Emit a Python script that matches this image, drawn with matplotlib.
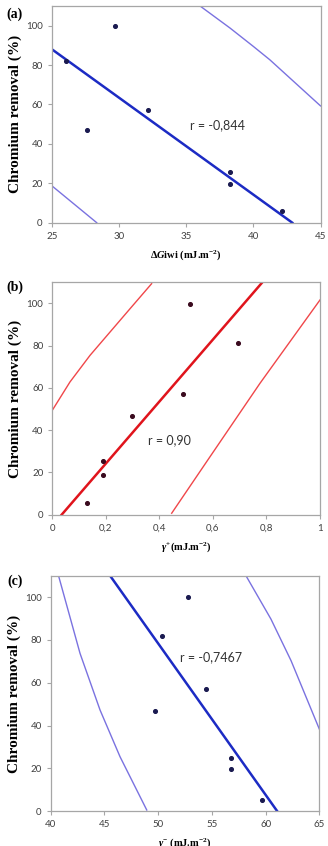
import numpy as np
import matplotlib.pyplot as plt

plt.rcParams['mathtext.fontset'] = 'custom'
plt.rcParams['mathtext.rm'] = 'Liberation Serif:bold'
plt.rcParams['mathtext.it'] = 'Liberation Serif:italic:bold'

# datos
# (a) dGiwi
xa = [26.05, 27.65, 29.7, 32.15, 38.25, 38.25, 42.1]
ya = [82.2, 47.1, 100.0, 57.3, 25.8, 19.7, 6.1]
fit_a_x = [25.0, 42.9]
fit_a_y = [88.1, 0.0]
up_a_x = [35.9, 38.27, 40.0, 41.23, 45.0]
up_a_y = [110.7, 98.8, 89.5, 82.7, 59.3]
lo_a_x = [25.0, 28.35]
lo_a_y = [18.8, 0.0]

# (b) gamma+
xb = [0.128, 0.191, 0.191, 0.299, 0.487, 0.514, 0.692]
yb = [5.4, 25.4, 18.9, 46.7, 56.9, 99.7, 81.4]
fit_b_x = [0.035, 0.785]
fit_b_y = [0.0, 110.0]
up_b_x = [0.0, 0.066, 0.141, 0.290, 0.371]
up_b_y = [49.4, 62.8, 75.4, 97.4, 109.3]
lo_b_x = [0.446, 0.589, 0.776, 1.0]
lo_b_y = [0.7, 27.4, 62.2, 101.6]
ticks_b = [0, 0.2, 0.4, 0.6, 0.8, 1]
labels_b = ["0", "0,2", "0,4", "0,6", "0,8", "1"]

# (c) gamma-
xc = [49.68, 50.36, 52.75, 54.42, 56.81, 56.81, 59.63]
yc = [46.8, 81.6, 100.0, 56.9, 25.0, 19.6, 5.1]
fit_c_x = [45.52, 61.09]
fit_c_y = [110.0, 0.0]
lo_c_x = [40.71, 42.73, 44.59, 46.45, 48.94]
lo_c_y = [110.3, 73.7, 47.3, 25.5, 0.6]
up_c_x = [58.18, 60.50, 62.37, 65.0]
up_c_y = [109.9, 89.7, 70.3, 38.4]

yticks = [0, 20, 40, 60, 80, 100]

W, H = 328, 846
fig = plt.figure(figsize=(W / 100, H / 100), dpi=100)

def caja(left, top, right, bottom):
    return fig.add_axes([left / W, 1 - bottom / H, (right - left) / W, (bottom - top) / H])

serif = ['Liberation Serif', 'DejaVu Serif']
sans = 'Lato'

def estilo(ax, xlim, xticks, xlabels, xlabel):
    ax.set_xlim(*xlim)
    ax.set_ylim(0, 110)
    ax.set_yticks(yticks)
    ax.set_xticks(xticks)
    if xlabels is not None:
        ax.set_xticklabels(xlabels)
    for s in ax.spines.values():
        s.set_color('#a6a6a6')
        s.set_linewidth(0.9)
    ax.tick_params(direction='out', length=3, width=0.8, color='#a6a6a6',
                   labelsize=7, labelcolor='#404040', pad=3.5)
    for t in ax.get_xticklabels() + ax.get_yticklabels():
        t.set_family(sans)
    ax.set_ylabel('Chromium removal (%)', family=serif, fontweight='bold',
                  fontsize=11, labelpad=3)
    ax.set_xlabel(xlabel, family=serif, fontweight='bold', fontsize=7.5, labelpad=5)

blue_dark = '#1c2bc4'
blue_band = '#7a72e0'
red_dark = '#e0141c'
red_band = '#f0474a'

# (a)
ax = caja(51.7, 6, 320.5, 222.7)
ax.plot(up_a_x, up_a_y, color=blue_band, lw=1.0)
ax.plot(lo_a_x, lo_a_y, color=blue_band, lw=1.0)
ax.plot(fit_a_x, fit_a_y, color=blue_dark, lw=1.8)
ax.scatter(xa, ya, s=7, color='#1a1a50', zorder=3)
ax.text(35.3, 49.7, 'r = -0,844', family=sans, fontsize=9, color='#333333', va='center')
estilo(ax, (25, 45), [25, 30, 35, 40, 45], None, r'$\Delta\mathit{G}$iwi (mJ.m$^{-2}$)')
fig.text(6 / W, 1 - 14 / H, '(a)', family=serif, fontweight='bold', fontsize=10, va='center')

# (b)
ax = caja(52.3, 282.2, 320, 514.7)
ax.plot(up_b_x, up_b_y, color=red_band, lw=1.0)
ax.plot(lo_b_x, lo_b_y, color=red_band, lw=1.0)
ax.plot(fit_b_x, fit_b_y, color=red_dark, lw=1.8)
ax.scatter(xb, yb, s=7, color='#3a0a1e', zorder=3)
ax.text(0.356, 35.2, 'r = 0,90', family=sans, fontsize=9, color='#333333', va='center')
estilo(ax, (0, 1), ticks_b, labels_b, r'$\gamma^{+}$(mJ.m$^{-2}$)')
fig.text(6 / W, 1 - 287 / H, '(b)', family=serif, fontweight='bold', fontsize=10, va='center')

# (c)
ax = caja(50.7, 575.6, 319.3, 811.3)
ax.plot(lo_c_x, lo_c_y, color=blue_band, lw=1.0)
ax.plot(up_c_x, up_c_y, color=blue_band, lw=1.0)
ax.plot(fit_c_x, fit_c_y, color=blue_dark, lw=1.8)
ax.scatter(xc, yc, s=7, color='#1a1a50', zorder=3)
ax.text(52.03, 72.1, 'r = -0,7467', family=sans, fontsize=9, color='#333333', va='center')
estilo(ax, (40, 65), [40, 45, 50, 55, 60, 65], None, r'$\gamma^{-}$ (mJ.m$^{-2}$)')
fig.text(7 / W, 1 - 581 / H, '(c)', family=serif, fontweight='bold', fontsize=10, va='center')

fig.savefig('out.png', dpi=100)
